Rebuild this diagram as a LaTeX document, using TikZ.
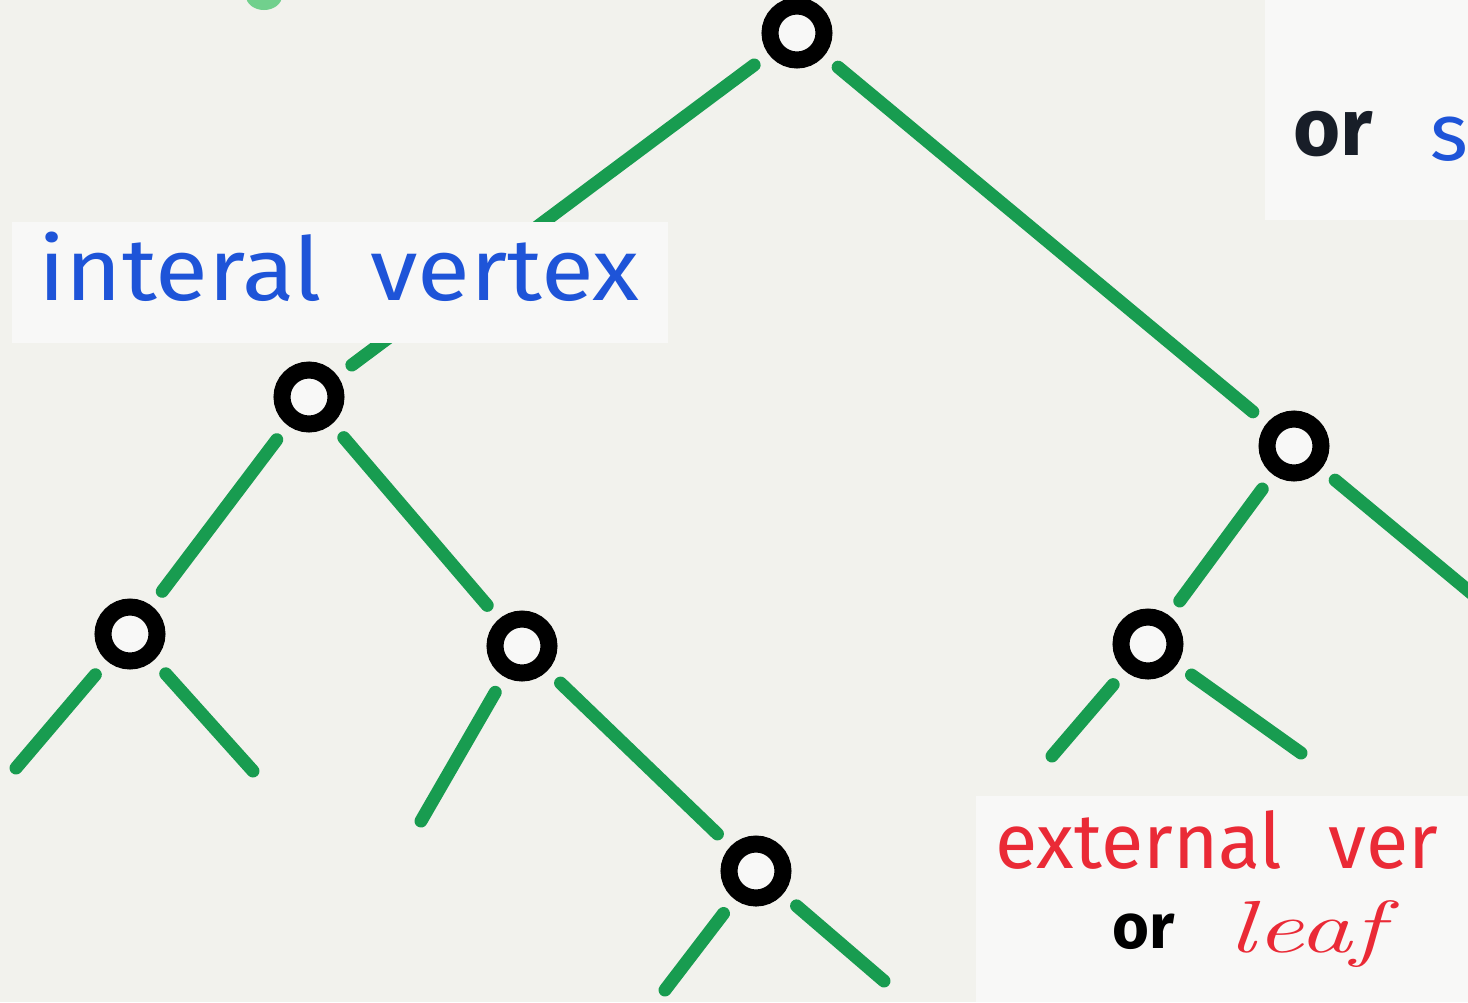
\documentclass[tikz,border=0pt]{standalone}
\usepackage{fontspec}
\setmainfont{Fira Sans}
\newfontfamily\leaffont{Latin Modern Roman}
\usepackage{xcolor}
\usetikzlibrary{calc}

\definecolor{paper}{RGB}{242,242,237}
\definecolor{card}{RGB}{248,248,247}
\definecolor{stem}{RGB}{24,156,80}
\definecolor{inkblue}{RGB}{30,84,216}
\definecolor{inkred}{RGB}{234,42,54}
\definecolor{inkdark}{RGB}{24,30,40}

\tikzset{
  vertex/.style = {circle, draw = black, line width = 0.34cm, minimum size = 1.08cm,
    inner sep = 0pt, fill = card},
  branch/.style = {draw = stem, line width = 0.26cm, line cap = round,
    shorten <= 0.36cm, shorten >= 0.36cm},
  twig/.style = {draw = stem, line width = 0.26cm, line cap = round, shorten <= 0.36cm},
  hand/.style = {inner sep = 0pt, anchor = base west}
}

\begin{document}
\begin{tikzpicture}[x = 0.02cm, y = -0.02cm]
  \useasboundingbox (0, 0) rectangle (1468, 1002);
  \clip (0, 0) rectangle (1468, 1002);
  \fill[paper] (0, 0) rectangle (1468, 1002);
  \fill[card] (1265, 0) rectangle (1468, 220);
  \fill[card] (976, 796) rectangle (1468, 1002);
  \fill[stem!80!green!60!white] (264, -4) ellipse[x radius = 18, y radius = 14];

  % vertices
  \node[vertex] (root) at (797, 33) {};
  \node[vertex] (A) at (309, 397) {};
  \node[vertex] (B) at (1294, 446) {};
  \node[vertex] (C) at (130, 634) {};
  \node[vertex] (D) at (522, 646) {};
  \node[vertex] (E) at (756, 871) {};
  \node[vertex] (F) at (1148, 644) {};

  % free ends
  \coordinate (c1) at (16, 768);
  \coordinate (c2) at (253, 771);
  \coordinate (d1) at (421, 821);
  \coordinate (e1) at (665, 990);
  \coordinate (e2) at (884, 981);
  \coordinate (b2) at (1482, 602);
  \coordinate (f1) at (1052, 756);
  \coordinate (f2) at (1301, 753);

  \draw[branch] (root) -- (A);
  \draw[branch] (root) -- (B);
  \draw[branch] (A) -- (C);
  \draw[branch] (A) -- (D);
  \draw[branch] (D) -- (E);
  \draw[branch] (B) -- (F);
  \draw[twig] (C) -- (c1);
  \draw[twig] (C) -- (c2);
  \draw[twig] (D) -- (d1);
  \draw[twig] (E) -- (e1);
  \draw[twig] (E) -- (e2);
  \draw[twig] (B) -- (b2);
  \draw[twig] (F) -- (f1);
  \draw[twig] (F) -- (f2);

  % labels
  \fill[card] (12, 222) rectangle (668, 343);
  \node[hand, text = inkblue] (internal) at (38, 300)
    {\scalebox{1.1}[1]{\fontsize{50}{60}\selectfont interal\hspace{0.5em}vertex}};
  \node[hand, text = inkdark] (or1) at (1293, 155)
    {\fontsize{46}{55}\selectfont\bfseries or};
  \node[hand, text = inkblue] (s1) at (1430, 160)
    {\fontsize{46}{55}\selectfont s};
  \node[hand, text = inkred] (external) at (995, 868)
    {\fontsize{44}{52}\selectfont external\hspace{0.6em}ver};
  \node[hand, text = black] (or2) at (1112, 948)
    {\fontsize{36}{44}\selectfont\bfseries or};
  \node[hand, text = inkred] (leaf) at (1228, 952)
    {\scalebox{1.45}[1]{\fontsize{42}{50}\selectfont\leaffont\itshape leaf}};
\end{tikzpicture}
\end{document}
